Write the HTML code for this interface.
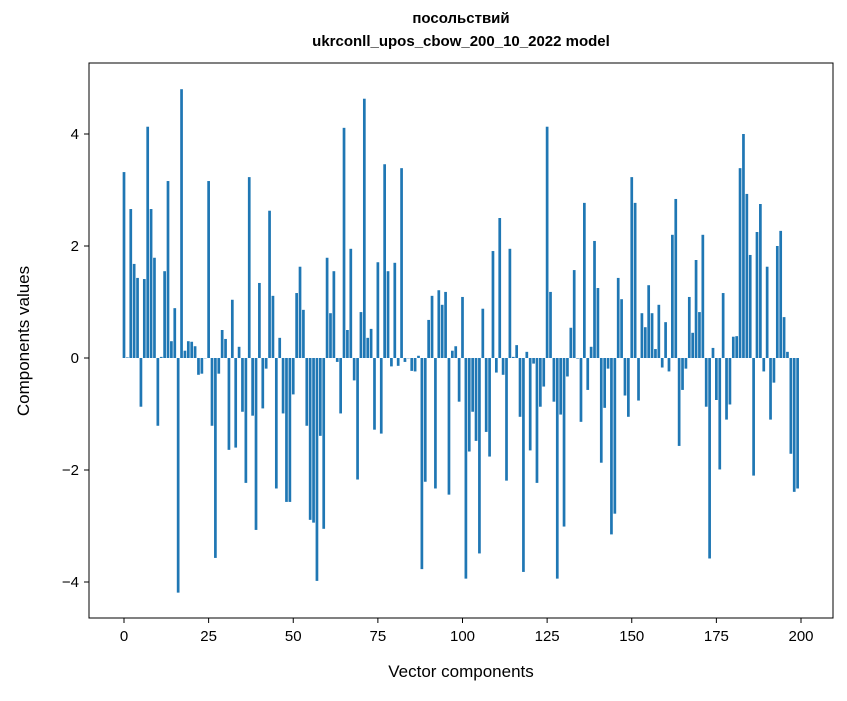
<!DOCTYPE html>
<html><head><meta charset="utf-8"><style>
body{margin:0;background:#fff;}
svg text{font-family:"Liberation Sans","DejaVu Sans",sans-serif;}
</style></head><body>
<svg id="chart" width="847" height="696" xmlns="http://www.w3.org/2000/svg">
<text x="461" y="23" text-anchor="middle" font-size="15" font-weight="bold">посольствий</text>
<text x="461" y="46" text-anchor="middle" font-size="15" font-weight="bold">ukrconll_upos_cbow_200_10_2022 model</text>
<g id="bars"></g>
<rect x="89" y="63" width="744" height="555" fill="none" stroke="#000" stroke-width="1"/>
<g id="xticks"></g>
<g id="yticks"></g>
<text x="461" y="677" text-anchor="middle" font-size="17">Vector components</text>
<text transform="translate(29,341) rotate(-90)" text-anchor="middle" font-size="17">Components values</text>
</svg>
<script>
const values = [3.32,0.01,2.66,1.68,1.43,-0.87,1.41,4.13,2.66,1.79,-1.21,0.02,1.55,3.16,0.30,0.89,-4.19,4.80,0.13,0.30,0.29,0.21,-0.30,-0.28,0.0,3.16,-1.21,-3.57,-0.28,0.5,0.34,-1.64,1.04,-1.60,0.2,-0.96,-2.23,3.23,-1.03,-3.07,1.34,-0.90,-0.19,2.63,1.11,-2.33,0.36,-0.99,-2.57,-2.57,-0.65,1.16,1.63,0.86,-1.21,-2.89,-2.94,-3.98,-1.39,-3.05,1.79,0.80,1.55,-0.07,-0.99,4.11,0.5,1.95,-0.40,-2.17,0.82,4.63,0.36,0.52,-1.28,1.71,-1.35,3.46,1.55,-0.15,1.70,-0.14,3.39,-0.07,0.0,-0.23,-0.24,0.04,-3.77,-2.21,0.68,1.11,-2.33,1.21,0.95,1.18,-2.44,0.13,0.21,-0.78,1.09,-3.94,-1.67,-0.96,-1.48,-3.49,0.88,-1.32,-1.76,1.91,-0.26,2.50,-0.30,-2.19,1.95,0.02,0.23,-1.05,-3.82,0.11,-1.65,-0.10,-2.23,-0.87,-0.51,4.13,1.18,-0.78,-3.94,-1.01,-3.01,-0.33,0.54,1.57,-0.01,-1.14,2.77,-0.57,0.20,2.09,1.25,-1.87,-0.89,-0.19,-3.15,-2.78,1.43,1.05,-0.67,-1.05,3.23,2.77,-0.76,0.80,0.55,1.30,0.80,0.16,0.95,-0.17,0.64,-0.24,2.20,2.84,-1.57,-0.57,-0.19,1.09,0.45,1.75,0.82,2.20,-0.87,-3.58,0.18,-0.75,-1.99,1.16,-1.10,-0.83,0.38,0.39,3.39,4.00,2.93,1.84,-2.10,2.25,2.75,-0.24,1.63,-1.10,-0.44,2.00,2.27,0.73,0.11,-1.71,-2.39,-2.33];
const xTickValues = [0,25,50,75,100,125,150,175,200];
const yTickValues = [-4,-2,0,2,4];
const yTickLabels = ["\u22124","\u22122","0","2","4"];

const NS="http://www.w3.org/2000/svg";
function xScale(i){return 124 + i*3.385;}
function yScale(v){return 358 - v*56;}
const barsG=document.getElementById('bars');
values.forEach((v,i)=>{
  const r=document.createElementNS(NS,'rect');
  const y0=yScale(0), y1=yScale(v);
  r.setAttribute('x',xScale(i)-1.354);
  r.setAttribute('width',2.708);
  r.setAttribute('y',Math.min(y0,y1));
  r.setAttribute('height',Math.max(Math.abs(y1-y0),0.3));
  r.setAttribute('fill','#1f77b4');
  
  
  barsG.appendChild(r);
});
const xg=document.getElementById('xticks');
xTickValues.forEach(t=>{
  const x=xScale(t);
  const l=document.createElementNS(NS,'line');
  l.setAttribute('x1',x);l.setAttribute('x2',x);l.setAttribute('y1',618);l.setAttribute('y2',623);
  l.setAttribute('stroke','#000');
  
  
  xg.appendChild(l);
  const tx=document.createElementNS(NS,'text');
  tx.setAttribute('x',x);tx.setAttribute('y',641);tx.setAttribute('text-anchor','middle');tx.setAttribute('font-size','15');
  tx.textContent=t;
  
  
  xg.appendChild(tx);
});
const yg=document.getElementById('yticks');
yTickValues.forEach((t,k)=>{
  const y=yScale(t);
  const l=document.createElementNS(NS,'line');
  l.setAttribute('x1',84);l.setAttribute('x2',89);l.setAttribute('y1',y);l.setAttribute('y2',y);
  l.setAttribute('stroke','#000');
  
  
  yg.appendChild(l);
  const tx=document.createElementNS(NS,'text');
  tx.setAttribute('x',79);tx.setAttribute('y',y+5);tx.setAttribute('text-anchor','end');tx.setAttribute('font-size','15');
  tx.textContent=yTickLabels[k];
  
  
  yg.appendChild(tx);
});
</script>
</body></html>
